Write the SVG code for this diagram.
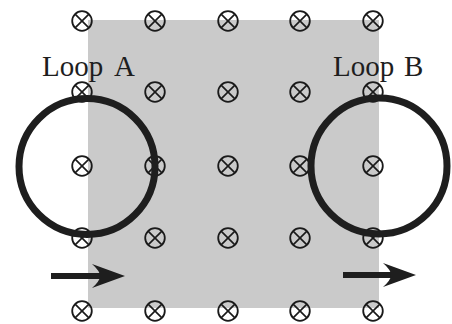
<svg xmlns="http://www.w3.org/2000/svg" width="452" height="324" viewBox="0 0 452 324">
<defs>
<style>
.sc{fill:none;stroke:#1a1a1a;stroke-width:1.8}
.sx{stroke:#1a1a1a;stroke-width:1.6;fill:none}
.loop{fill:none;stroke:#1e1e1e;stroke-width:7}
.lbl{font-family:"Liberation Serif","DejaVu Serif",serif;font-size:29px;fill:#1e1e1e}
.arr{fill:#1e1e1e}
</style>
<g id="sym">
<circle class="sc" cx="0" cy="0" r="9.8"/>
<path class="sx" d="M-6.9,-6.9L6.9,6.9M-6.9,6.9L6.9,-6.9"/>
</g>
</defs>
<rect width="452" height="324" fill="#fff"/>
<rect id="field" x="88" y="20" width="291" height="288" fill="#cacaca"/>
<g id="field-symbols">
<use href="#sym" x="82" y="21"/><use href="#sym" x="155" y="21"/><use href="#sym" x="228" y="21"/><use href="#sym" x="300" y="21"/><use href="#sym" x="373" y="21"/>
<use href="#sym" x="82" y="92"/><use href="#sym" x="155" y="92"/><use href="#sym" x="228" y="92"/><use href="#sym" x="300" y="92"/><use href="#sym" x="373" y="92"/>
<use href="#sym" x="82" y="166"/><use href="#sym" x="155" y="166"/><use href="#sym" x="228" y="166"/><use href="#sym" x="300" y="166"/><use href="#sym" x="373" y="166"/>
<use href="#sym" x="82" y="238"/><use href="#sym" x="155" y="238"/><use href="#sym" x="228" y="238"/><use href="#sym" x="300" y="238"/><use href="#sym" x="373" y="238"/>
<use href="#sym" x="82" y="311"/><use href="#sym" x="155" y="311"/><use href="#sym" x="228" y="311"/><use href="#sym" x="300" y="311"/><use href="#sym" x="373" y="311"/>
</g>
<g id="loopA">
<circle class="loop" cx="87" cy="166.5" r="68"/>
<text class="lbl" x="42" y="76">Loop</text><text class="lbl" x="114" y="76">A</text>
</g>
<g id="loopB">
<circle class="loop" cx="379" cy="166" r="68"/>
<text class="lbl" x="333" y="76">Loop</text><text class="lbl" x="404" y="76">B</text>
</g>
<g id="connectors">
<path class="arr" d="M51,273H100V279H51Z"/>
<path class="arr" d="M125,276L92,264Q100,271 100,276Q100,281 92,288Z"/>
<path class="arr" d="M343,272H392V278H343Z"/>
<path class="arr" d="M416,275L383,263Q391,270 391,275Q391,280 383,287Z"/>
</g>
</svg>
